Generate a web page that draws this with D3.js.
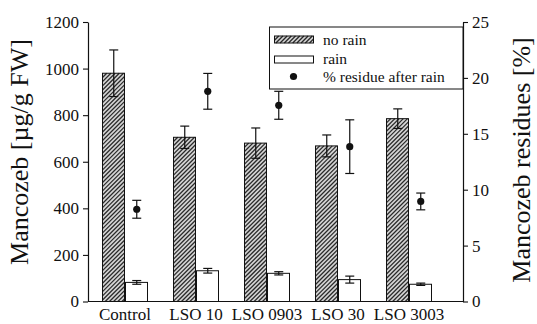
<!DOCTYPE html>
<html>
<head>
<meta charset="utf-8">
<script src="https://cdn.jsdelivr.net/npm/d3@7"></script>
</head>
<body style="margin:0">
<svg id="fig" width="537" height="324"></svg>
<script>
// Mancozeb residues on leaves with and without rain
const categories = ["Control", "LSO 10", "LSO 0903", "LSO 30", "LSO 3003"];
const noRain     = [980, 705, 680, 668, 785];
const noRainErr  = [100, 48, 65, 47, 42];
const rain       = [82, 132, 121, 94, 74];
const rainErr    = [8, 10, 7, 15, 5];
const residuePct = [8.25, 18.8, 17.55, 13.85, 8.95];
const residueErr = [0.8, 1.6, 1.25, 2.4, 0.75];
const leftTicks  = [0, 200, 400, 600, 800, 1000, 1200];
const rightTicks = [0, 5, 10, 15, 20, 25];

const FONT = "'Liberation Serif', monospace";

const svg = d3.select("#fig");
const plotLeft = 88, plotRight = 463, plotTop = 22, plotBottom = 301.5;

const x = d3.scaleBand().domain(categories).range([89.5, 444.5]).padding(0);
const yL = d3.scaleLinear().domain([0, 1200]).range([plotBottom, plotTop]);
const yR = d3.scaleLinear().domain([0, 25]).range([plotBottom, plotTop]);
const barW = 22.5;
const cx = c => x(c) + x.bandwidth() / 2;

// draws a rectangle filled with "/" hatching (no defs needed)
function hatchedRect(parent, x0, y0, w, h) {
  const x1 = x0 + w, y1 = y0 + h, step = 4.2;
  parent.append("rect").attr("x", x0).attr("y", y0).attr("width", w).attr("height", h)
    .attr("fill", "#d4d4d4");
  const segs = [];
  for (let c = x0 + y0; c <= x1 + y1; c += step) {
    const a = Math.max(x0, c - y1), b = Math.min(x1, c - y0);
    if (b > a) segs.push([a, c - a, b, c - b]);
  }
  parent.append("g").attr("stroke", "#2a2a2a").attr("stroke-width", 1.3)
    .selectAll("line").data(segs).join("line")
    .attr("x1", d => d[0]).attr("y1", d => d[1]).attr("x2", d => d[2]).attr("y2", d => d[3]);
  parent.append("rect").attr("x", x0).attr("y", y0).attr("width", w).attr("height", h)
    .attr("fill", "none").attr("stroke", "#111").attr("stroke-width", 1);
}

// bars
const g = svg.append("g");
categories.forEach((c, i) => {
  hatchedRect(g, cx(c) - barW, yL(noRain[i]), barW - 0.5, yL(0) - yL(noRain[i]));
});

g.selectAll("rect.rain").data(categories).join("rect")
  .attr("class", "rain")
  .attr("x", c => cx(c) + 0.5)
  .attr("y", (c, i) => yL(rain[i]))
  .attr("width", barW - 0.5)
  .attr("height", (c, i) => yL(0) - yL(rain[i]))
  .attr("fill", "#fff").attr("stroke", "#111").attr("stroke-width", 1);

// error bars
function errorBar(xc, yScale, v, e) {
  const eg = g.append("g").attr("stroke", "#111").attr("stroke-width", 1.2);
  eg.append("line").attr("x1", xc).attr("x2", xc).attr("y1", yScale(v - e)).attr("y2", yScale(v + e));
  [v - e, v + e].forEach(t => eg.append("line")
    .attr("x1", xc - 4.5).attr("x2", xc + 4.5).attr("y1", yScale(t)).attr("y2", yScale(t)));
}
categories.forEach((c, i) => {
  errorBar(cx(c) - barW / 2, yL, noRain[i], noRainErr[i]);
  errorBar(cx(c) + barW / 2 + 0.5, yL, rain[i], rainErr[i]);
  errorBar(cx(c) + barW / 2 + 0.5, yR, residuePct[i], residueErr[i]);
});

// residue points
g.selectAll("circle.res").data(categories).join("circle")
  .attr("class", "res")
  .attr("cx", c => cx(c) + barW / 2 + 0.5)
  .attr("cy", (c, i) => yR(residuePct[i]))
  .attr("r", 3.6).attr("fill", "#111");

// axes
const axL = svg.append("g").attr("transform", `translate(${plotLeft},0)`)
  .call(d3.axisLeft(yL).tickValues(leftTicks).tickFormat(d3.format("d"))
    .tickSize(5).tickPadding(4).tickSizeOuter(0));
const axR = svg.append("g").attr("transform", `translate(${plotRight},0)`)
  .call(d3.axisRight(yR).tickValues(rightTicks).tickFormat(d3.format("d"))
    .tickSize(5).tickPadding(4).tickSizeOuter(0));
[axL, axR].forEach(a => {
  a.attr("font-family", FONT).attr("font-size", 17);
  a.select(".domain").attr("stroke", "#111").attr("stroke-width", 1.2);
  a.selectAll(".tick line").attr("stroke", "#111").attr("stroke-width", 1.1);
  a.selectAll(".tick text").attr("fill", "#111");
});

const axB = svg.append("g").attr("transform", `translate(0,${plotBottom})`);
axB.append("line").attr("x1", plotLeft).attr("x2", plotRight).attr("stroke", "#111").attr("stroke-width", 1.2);
axB.selectAll("text").data(categories).join("text")
  .attr("x", c => cx(c)).attr("y", 18)
  .attr("text-anchor", "middle").attr("font-family", FONT).attr("font-size", 17)
  .attr("fill", "#111").text(c => c);

// axis titles
svg.append("text")
  .attr("transform", `translate(28,152) rotate(-90)`)
  .attr("text-anchor", "middle").attr("font-family", FONT).attr("font-size", 26)
  .attr("fill", "#111").text("Mancozeb [µg/g FW]");
svg.append("text")
  .attr("transform", `translate(530,160) rotate(-90)`)
  .attr("text-anchor", "middle").attr("font-family", FONT).attr("font-size", 26)
  .attr("fill", "#111").text("Mancozeb residues [%]");

// legend
const lg = svg.append("g");
lg.append("rect").attr("x", 269.5).attr("y", 27).attr("width", 193.5).attr("height", 62)
  .attr("fill", "#fff").attr("stroke", "#111").attr("stroke-width", 1);
hatchedRect(lg, 274.5, 36, 39, 7);
lg.append("rect").attr("x", 274.5).attr("y", 56).attr("width", 39).attr("height", 7)
  .attr("fill", "#fff").attr("stroke", "#111").attr("stroke-width", 1);
lg.append("circle").attr("cx", 293.5).attr("cy", 76.5).attr("r", 3.6).attr("fill", "#111");
const legendLabels = ["no rain", "rain", "% residue after rain"];
lg.selectAll("text.lbl").data(legendLabels).join("text")
  .attr("class", "lbl")
  .attr("x", 323).attr("y", (d, i) => 45 + i * 18.5)
  .attr("font-family", FONT).attr("font-size", 15.5)
  .attr("fill", "#111").text(d => d);
</script>
</body>
</html>
